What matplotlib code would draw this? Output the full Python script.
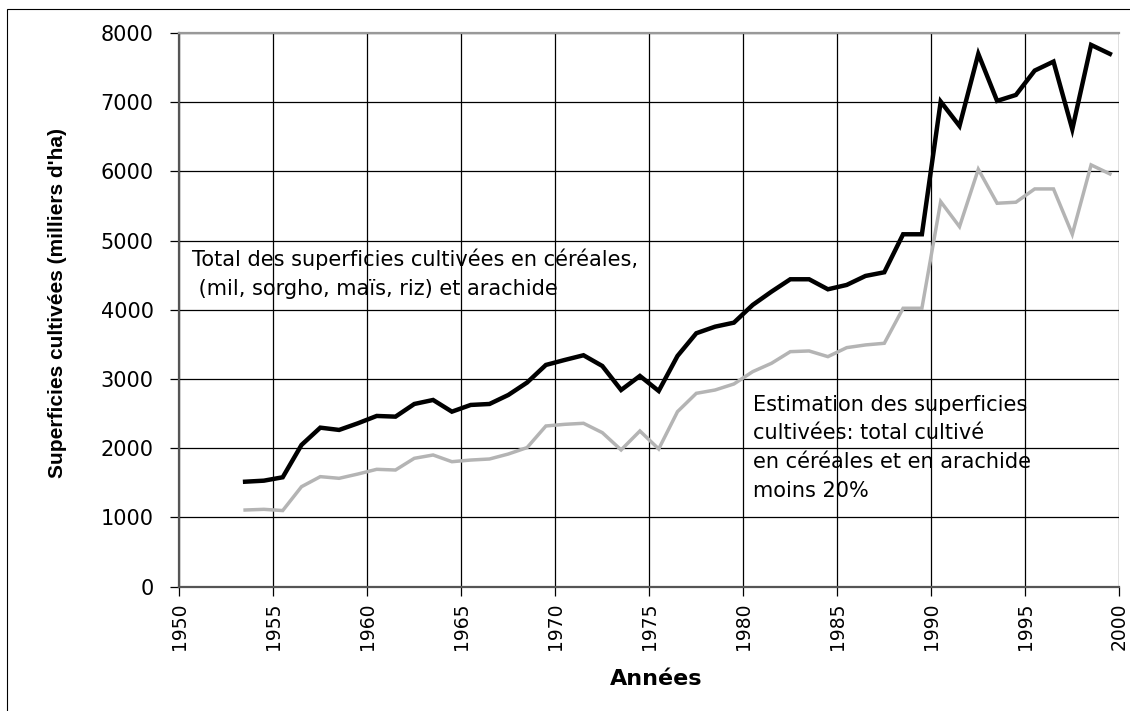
import matplotlib
matplotlib.use("Agg")
import matplotlib.pyplot as plt
from matplotlib.patches import Rectangle
import numpy as np

years = list(range(1953, 2000))
total = [1517, 1532, 1581, 2048, 2298, 2265, 2361, 2467, 2457, 2640,
         2698, 2529, 2626, 2640, 2770, 2950, 3204, 3276, 3344, 3189,
         2842, 3045, 2828, 3334, 3662, 3757, 3815, 4071, 4263, 4442,
         4442, 4297, 4360, 4490, 4543, 5092, 5092, 7009, 6657, 7698,
         7019, 7105, 7457, 7587, 6609, 7828, 7698]
estimate = [1108, 1118, 1100, 1445, 1590, 1566, 1628, 1696, 1686, 1855,
            1903, 1806, 1830, 1845, 1917, 2010, 2322, 2346, 2361, 2226,
            1976, 2250, 1990, 2529, 2794, 2842, 2929, 3107, 3228, 3396,
            3406, 3324, 3454, 3493, 3517, 4023, 4023, 5564, 5202, 6031,
            5540, 5555, 5747, 5747, 5092, 6094, 5964]
x_ticks = list(range(1950, 2001, 5))
y_ticks = list(range(0, 8001, 1000))

label_total = "Total des superficies cultivées en céréales,\n (mil, sorgho, maïs, riz) et arachide"
label_est = "Estimation des superficies\ncultivées: total cultivé\nen céréales et en arachide\nmoins 20%"

W, H = 1130, 711
fig = plt.figure(figsize=(W / 100, H / 100), dpi=100)
fig.patch.set_facecolor("white")
left, right, top, bottom = 179.3, 1119.3, 33.0, 586.7
ax = fig.add_axes([left / W, 1 - bottom / H, (right - left) / W, (bottom - top) / H])

xpos = np.array(years) + 0.5
ax.plot(xpos, estimate, color="#b4b4b4", lw=2.5, zorder=3, solid_joinstyle="miter")
ax.plot(xpos, total, color="black", lw=3.2, zorder=4, solid_joinstyle="miter")

ax.set_xlim(1950, 2000)
ax.set_ylim(0, 8000)
ax.set_xticks(x_ticks)
ax.set_yticks(y_ticks)
ax.set_xticklabels([str(v) for v in x_ticks], rotation=90, fontsize=13.5, family="DejaVu Sans")
ax.set_yticklabels([str(v) for v in y_ticks], fontsize=15, family="DejaVu Sans")
ax.grid(True, color="black", lw=0.9, zorder=1)
ax.set_axisbelow(True)

ax.tick_params(axis="y", direction="out", length=6.5, width=0.9, pad=12, colors="black")
ax.tick_params(axis="x", direction="out", length=6.5, width=0.9, pad=5, colors="black")

for s in ["left", "bottom"]:
    ax.spines[s].set_color("#555555")
    ax.spines[s].set_linewidth(1.6)
ax.spines["top"].set_color("#999999")
ax.spines["top"].set_linewidth(1.6)
ax.spines["right"].set_visible(False)

ax.set_ylabel("Superficies cultivées (milliers d'ha)", fontsize=15, fontweight="bold",
              family=["Liberation Sans Narrow", "Liberation Sans", "DejaVu Sans"])
ax.yaxis.set_label_coords((58 - left) / (right - left), (bottom - 303) / (bottom - top))
ax.yaxis.label.set_va("center")
ax.set_xlabel("Années", fontsize=16, fontweight="bold", family="DejaVu Sans")
ax.xaxis.set_label_coords((656.5 - left) / (right - left), (bottom - 679) / (bottom - top))
ax.xaxis.label.set_va("center")

# multi-line 'baseline' alignment anchors the last line's baseline
ax.text(1950.7, 4215, label_total, fontsize=15, family="DejaVu Sans",
        va="baseline", ha="left", linespacing=1.55, zorder=5)
ax.text(1980.5, 1296, label_est, fontsize=15, family="DejaVu Sans",
        va="baseline", ha="left", linespacing=1.55, zorder=5)

fig.patches.append(Rectangle((7 / W, -0.1), 1.2, 1 - 9 / H + 0.1, transform=fig.transFigure,
                             fill=False, edgecolor="black", lw=0.8, figure=fig))

fig.savefig("out.png", dpi=100)
